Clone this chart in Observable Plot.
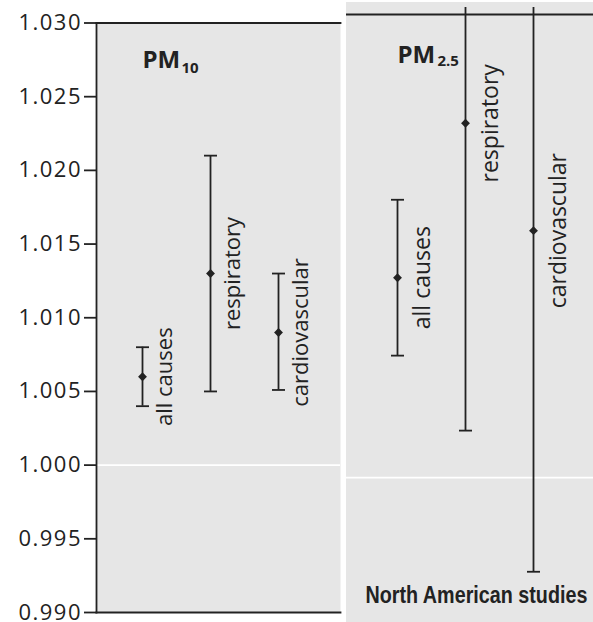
<!DOCTYPE html>
<html><head><meta charset="utf-8">
<script src="https://cdn.jsdelivr.net/npm/d3@7"></script>
<script src="https://cdn.jsdelivr.net/npm/@observablehq/plot@0.6"></script>
<style>
body{margin:0;background:#fff;}
#wrap{position:relative;width:593px;height:622px;overflow:hidden;font-family:"Open Sans",sans-serif;}
#left{position:absolute;left:0;top:0;}
#rightBg{position:absolute;left:346px;top:2px;width:247px;height:620px;background:#e6e6e6;}
#rightClip{position:absolute;left:346px;top:7px;width:247px;height:615px;overflow:hidden;}
</style></head><body>
<div id="wrap"><div id="left"></div><div id="rightBg"></div><div id="rightClip"></div></div>
<script>
// ---- data ----
const causes = ["all causes", "respiratory", "cardiovascular"];
const pm10Mid = [1.0060, 1.0130, 1.0090];
const pm10Lo  = [1.0040, 1.0050, 1.0051];
const pm10Hi  = [1.0080, 1.0210, 1.0130];
const pm25Mid = [1.0136, 1.0241, 1.0168];
const pm25Lo  = [1.0083, 1.0032, 0.9936];
const pm25Hi  = [1.0189, 1.0450, 1.0400];
const yTicks = [0.990, 0.995, 1.000, 1.005, 1.010, 1.015, 1.020, 1.025, 1.030];
const panel10 = "PM", sub10 = "10", panel25 = "PM", sub25 = "2.5";
const footnote = "North American studies";

const pm10 = causes.map((c, i) => ({cause: c, mid: pm10Mid[i], lo: pm10Lo[i], hi: pm10Hi[i]}));
const pm25 = causes.map((c, i) => ({cause: c, mid: pm25Mid[i], lo: pm25Lo[i], hi: pm25Hi[i]}));

const ink = "#222";
const gray = "#e6e6e6";
const lw = 1.8;

// horizontal cap symbol for the error bar ends
const capSymbol = {draw(context) { context.moveTo(-6.5, 0); context.lineTo(6.5, 0); }};

function barMarks(data, fontSize, dx) {
  return [
    Plot.ruleX(data, {x: "cause", y1: "lo", y2: "hi", stroke: ink, strokeWidth: lw}),
    Plot.dot(data, {x: "cause", y: "lo", symbol: capSymbol, stroke: ink, strokeWidth: lw, fill: "none"}),
    Plot.dot(data, {x: "cause", y: "hi", symbol: capSymbol, stroke: ink, strokeWidth: lw, fill: "none"}),
    Plot.dot(data, {x: "cause", y: "mid", symbol: "diamond2", r: 4, fill: ink, stroke: null}),
    Plot.text(data, {x: "cause", y: "mid", text: "cause", rotate: -90, textAnchor: "middle",
      lineAnchor: "bottom", dx, fontSize, fill: ink})
  ];
}

const left = Plot.plot({
  width: 340, height: 622,
  marginLeft: 96, marginRight: 0, marginTop: 22.5, marginBottom: 10,
  style: {background: "transparent", fontFamily: "'Open Sans', sans-serif", color: ink, overflow: "visible"},
  x: {type: "point", domain: causes, range: [141.7, 279], padding: 0, axis: null},
  y: {domain: [0.990, 1.030], axis: null},
  marks: [
    Plot.frame({fill: gray, stroke: "none"}),
    Plot.ruleY([1], {stroke: "white", strokeWidth: lw}),
    Plot.frame({anchor: "left", stroke: ink, strokeWidth: lw}),
    Plot.frame({anchor: "top", stroke: ink, strokeWidth: lw}),
    Plot.frame({anchor: "bottom", stroke: ink, strokeWidth: lw}),
    Plot.axisY(yTicks, {anchor: "left", tickSize: 12, tickPadding: 2.5, tickFormat: d3.format(".3f"),
      fontSize: 22, strokeWidth: lw, label: null}),
    ...barMarks(pm10, 22, 29),
    Plot.text([panel10], {frameAnchor: "top-left", dx: 46, dy: 44.5, lineAnchor: "bottom", textAnchor: "start",
      fontSize: 24, fontWeight: "bold", fill: ink}),
    Plot.text([sub10], {frameAnchor: "top-left", dx: 85, dy: 49.5, lineAnchor: "bottom", textAnchor: "start",
      fontSize: 15, fontWeight: "bold", fill: ink})
  ]
});
d3.select(left).selectAll('g[aria-label="y-axis tick label"] text').style("letter-spacing", "1.5px");
document.getElementById("left").appendChild(left);

const right = Plot.plot({
  width: 247, height: 615,
  marginLeft: 0, marginRight: 0, marginTop: 7, marginBottom: 0,
  style: {background: "transparent", fontFamily: "'Open Sans', sans-serif", color: ink, overflow: "visible"},
  x: {type: "point", domain: causes, range: [50.7, 186.7], padding: 0, axis: null},
  y: {domain: [0.990, 1.0315], range: [617.2, 7], axis: null},
  marks: [
    Plot.ruleY([1], {stroke: "white", strokeWidth: lw}),
    Plot.frame({anchor: "top", stroke: ink, strokeWidth: lw}),
    ...barMarks(pm25, 23, 32),
    Plot.text([panel25], {frameAnchor: "top-left", dx: 51, dy: 48, lineAnchor: "bottom", textAnchor: "start",
      fontSize: 24, fontWeight: "bold", fill: ink}),
    Plot.text([sub25], {frameAnchor: "top-left", dx: 91, dy: 51, lineAnchor: "bottom", textAnchor: "start",
      fontSize: 15, fontWeight: "bold", fill: ink}),
    Plot.text([footnote], {frameAnchor: "bottom-left", dx: 19, dy: -20, lineAnchor: "bottom", textAnchor: "start",
      fontFamily: "'Liberation Sans', sans-serif", fontWeight: "bold", fontSize: 23, fill: ink})
  ]
});
document.getElementById("rightClip").appendChild(right);
// condensed face for the footnote: squeeze horizontally to the reference width
d3.select(right).selectAll("text").filter(function() { return this.textContent === footnote; })
  .each(function() {
    const len = this.getComputedTextLength();
    const k = 222 / len;
    const t = this.getAttribute("transform") || "";
    const x = +this.getAttribute("x") || 0;
    this.setAttribute("transform", `${t} translate(${x},0) scale(${k},1) translate(${-x},0)`);
  });
</script>
</body></html>
